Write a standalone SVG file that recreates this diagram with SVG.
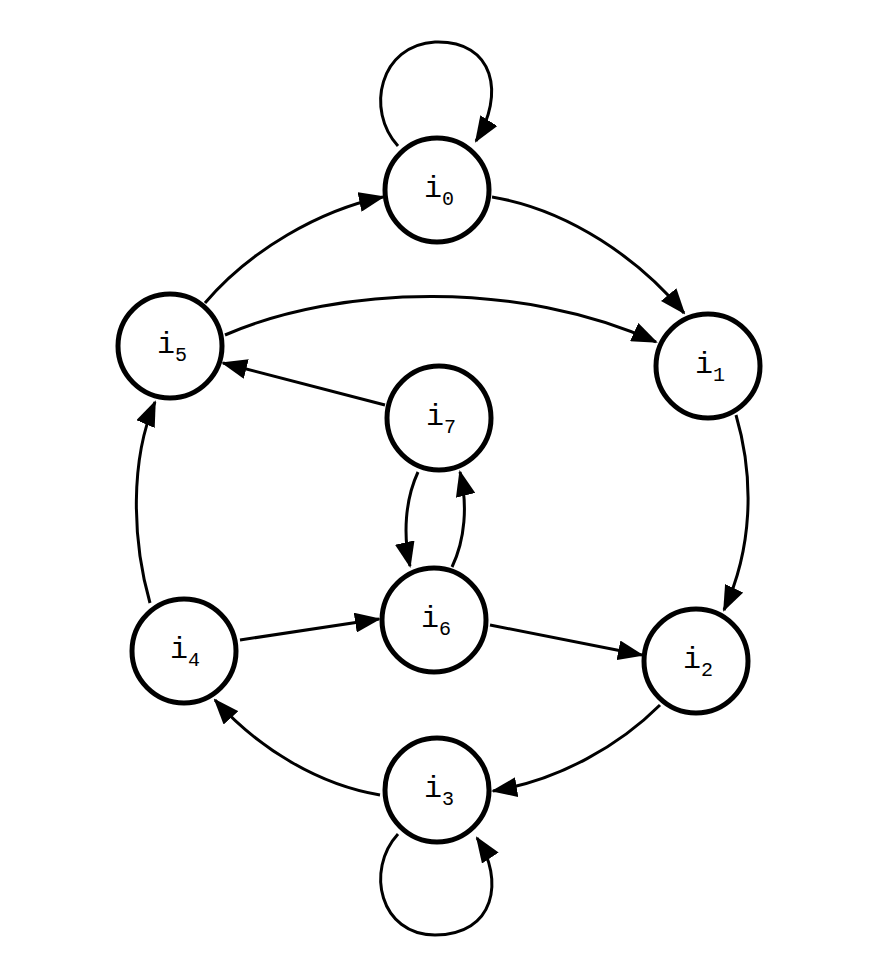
<svg xmlns="http://www.w3.org/2000/svg" width="880" height="975" viewBox="0 0 880 975">
<style>
.n{fill:#fff;stroke:#000;stroke-width:5}
.e{fill:none;stroke:#000;stroke-width:3;marker-end:url(#a)}
text{font-family:"Liberation Mono",monospace;font-size:30px;fill:#000}
.s{font-size:20px}
</style>
<defs><marker id="a" markerWidth="26" markerHeight="20" refX="24" refY="10" orient="auto" markerUnits="userSpaceOnUse" viewBox="0 0 26 20"><path d="M0,0L26,10L0,20Z"/></marker></defs>
<rect width="880" height="975" fill="#fff"/>
<g id="edges">
<path class="e" d="M398,146C365,110 380,45 435,42C495,40 505,95 476,141"/>
<path class="e" d="M492,197C570,210 640,260 684,313"/>
<path class="e" d="M205,303C250,250 320,210 383,197"/>
<path class="e" d="M225,335C340,285 520,280 656,342"/>
<path class="e" d="M385,405L223,363"/>
<path class="e" d="M736,415C755,480 752,550 724,610"/>
<path class="e" d="M150,603C132,540 130,460 155,402"/>
<path class="e" d="M418,472C405,500 403,535 410,566"/>
<path class="e" d="M452,567C465,540 468,505 460,472"/>
<path class="e" d="M240,640L379,619"/>
<path class="e" d="M490,625L642,655"/>
<path class="e" d="M660,705C620,745 560,780 493,791"/>
<path class="e" d="M380,795C320,785 260,750 215,700"/>
<path class="e" d="M398,834C365,870 380,935 435,935C495,935 505,880 477,838"/>
</g>
<g id="i0"><circle class="n" cx="437" cy="190" r="52"/><text x="424" y="197">i<tspan class="s" dy="8">0</tspan></text></g>
<g id="i1"><circle class="n" cx="708" cy="366" r="52"/><text x="695" y="373">i<tspan class="s" dy="8">1</tspan></text></g>
<g id="i2"><circle class="n" cx="696" cy="661" r="52"/><text x="683" y="668">i<tspan class="s" dy="8">2</tspan></text></g>
<g id="i3"><circle class="n" cx="437" cy="790" r="52"/><text x="424" y="797">i<tspan class="s" dy="8">3</tspan></text></g>
<g id="i4"><circle class="n" cx="184" cy="651" r="52"/><text x="170" y="658">i<tspan class="s" dy="8">4</tspan></text></g>
<g id="i5"><circle class="n" cx="170" cy="346" r="52"/><text x="157" y="353">i<tspan class="s" dy="8">5</tspan></text></g>
<g id="i6"><circle class="n" cx="434" cy="620" r="52"/><text x="421" y="627">i<tspan class="s" dy="8">6</tspan></text></g>
<g id="i7"><circle class="n" cx="439" cy="418" r="52"/><text x="426" y="425">i<tspan class="s" dy="8">7</tspan></text></g>
</svg>
